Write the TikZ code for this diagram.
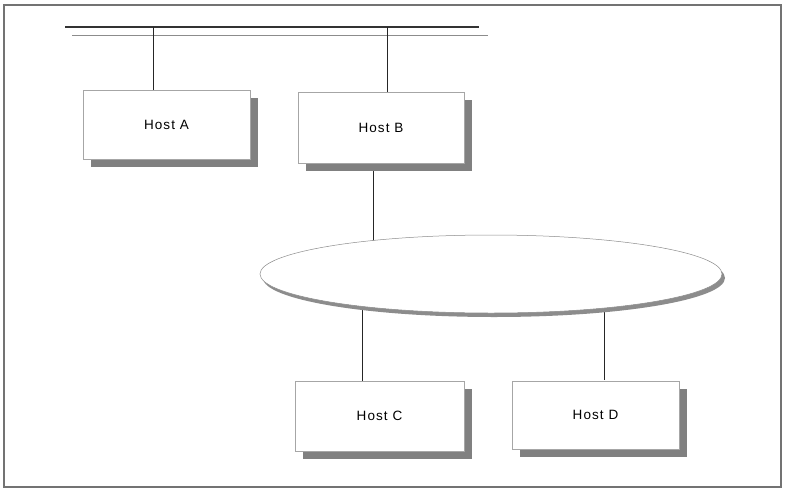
\documentclass[tikz,border=0pt]{standalone}
\usepackage{fontspec}
\setmainfont{Liberation Sans}
\usetikzlibrary{shapes.geometric,shadows,backgrounds}
\begin{document}
\begin{tikzpicture}[x=1pt,y=-1pt,
  host/.style={rectangle, draw=black!35, line width=0.5pt, fill=white,
    font=\fontsize{13.5}{15}\selectfont\addfontfeature{LetterSpace=8},
    inner sep=0pt,
    drop shadow={shadow xshift=8pt, shadow yshift=-8pt, fill=black!50, opacity=1}},
  net/.style={ellipse, draw=black!45, line width=0.5pt, fill=white, inner sep=0pt,
    drop shadow={shadow xshift=3pt, shadow yshift=-4pt, fill=black!45, opacity=1}},
  wire/.style={draw=black!85, line width=0.9pt}]
\useasboundingbox (0,0) rectangle (785,491);
% bus
\coordinate (busL) at (65,27);
\coordinate (busR) at (479,27);
\coordinate (bus2L) at (72,35);
\coordinate (bus2R) at (488,35);
\coordinate (tapA) at (153,27);
\coordinate (tapB) at (387,27);
% nodes
\node[host, minimum width=167pt, minimum height=69pt] (hostA) at (166.5,124.5) {Host A};
\node[host, minimum width=166pt, minimum height=71pt] (hostB) at (381,127.5) {Host B};
\node[net, minimum width=462pt, minimum height=78pt] (lan) at (491,274) {};
\node[host, minimum width=169pt, minimum height=70pt] (hostC) at (379.5,416) {Host C};
\node[host, minimum width=167pt, minimum height=68pt] (hostD) at (595.5,415) {Host D};
\coordinate (tapBn) at (373,163);
\coordinate (tapC) at (362,381);
\coordinate (tapD) at (604,380);
\begin{scope}[on background layer]
\fill[white] (0,0) rectangle (785,491);
\draw[black!55, line width=1.3pt] (4,5) rectangle (781,487);
\draw[black!80, line width=1.2pt] (busL) -- (busR);
\draw[black!45, line width=0.8pt] (bus2L) -- (bus2R);
\draw[wire] (tapA) -- (tapA |- hostA.north);
\draw[wire] (tapB) -- (tapB |- hostB.north);
\draw[wire] (tapBn) -- (tapBn |- lan.center);
\draw[wire] (tapC |- lan.center) -- (tapC);
\draw[wire] (tapD |- lan.center) -- (tapD);
\end{scope}
\end{tikzpicture}
\end{document}
